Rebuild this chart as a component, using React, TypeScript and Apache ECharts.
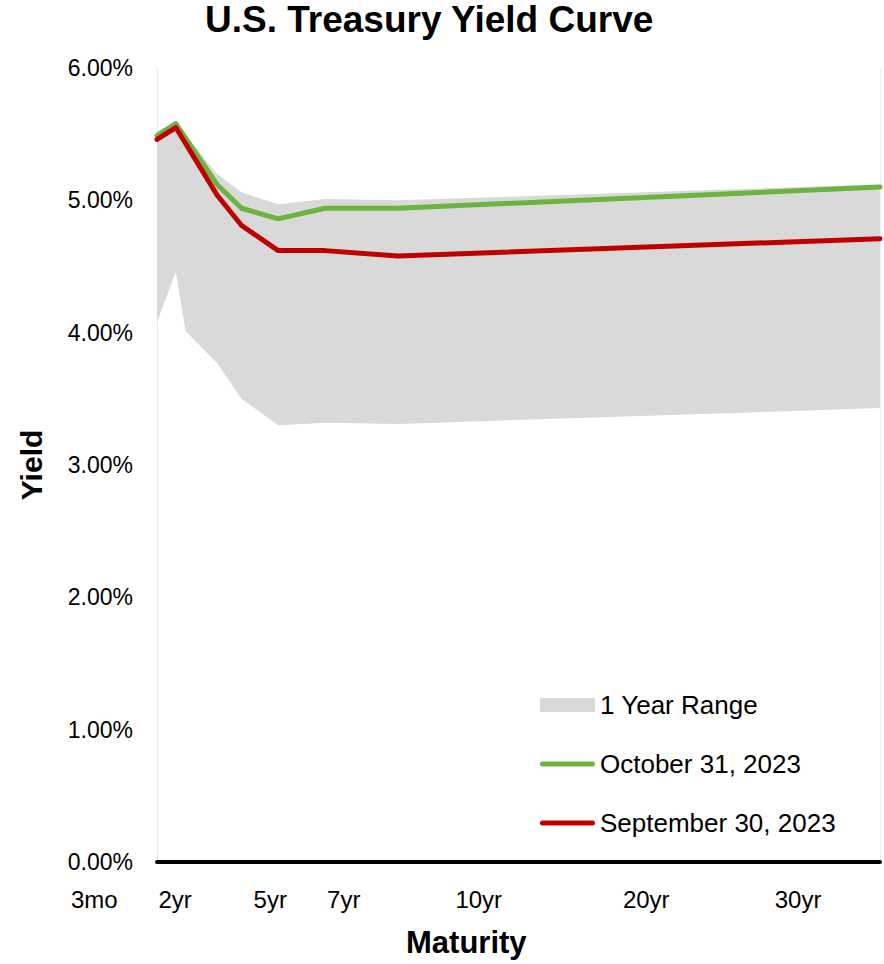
import React, { useEffect, useRef } from "react";
import * as echarts from "echarts";

// Maturity positions (years on the plot's linear scale) and yields (%)
const rangeMaturity = [0, 0.78, 1.19, 2.49, 3.51, 5.03, 6.97, 10.0, 30];
const rangeHigh = [5.52, 5.59, 5.49, 5.2, 5.06, 4.97, 5.01, 5.0, 5.12];
const rangeLow = [4.08, 4.46, 4.01, 3.77, 3.5, 3.3, 3.32, 3.31, 3.43];

const curveMaturity = [0, 0.78, 2.49, 3.51, 5.03, 6.97, 10.0, 30];
const oct2023 = [5.49, 5.58, 5.12, 4.94, 4.86, 4.94, 4.94, 5.1];
const sep2023 = [5.46, 5.55, 5.04, 4.81, 4.62, 4.62, 4.58, 4.71];

// x-axis tick labels and where they sit on the maturity scale
const tickLabels = ["3mo", "2yr", "5yr", "7yr", "10yr", "20yr", "30yr"];
const tickPositions = [-2.6, 0.75, 4.7, 7.75, 13.35, 20.3, 26.6];

const FONT = 'Arial, "Liberation Sans", sans-serif';
const GREEN = "#6DB33F";
const RED = "#C00000";
const GRAY = "#D9D9D9";

const W = 884;
const H = 964;
const plotLeft = 157;
const plotRight = 880;
const plotTop = 68;
const plotBottom = 862;
const xMax = 30;
const labelMin = -4;

export default function App() {
  const ref = useRef<HTMLDivElement>(null);

  useEffect(() => {
    if (!ref.current) return;
    const chart = echarts.init(ref.current, undefined, { renderer: "svg" });
    const pxPerYear = (plotRight - plotLeft) / xMax;
    const grid1Left = plotLeft + labelMin * pxPerYear;
    const lineIcon =
      "path://M2.5,0H52.5A2.5,2.5,0,0,1,52.5,5H2.5A2.5,2.5,0,0,1,2.5,0Z";

    chart.setOption({
      animation: false,
      backgroundColor: "#ffffff",
      title: {
        text: "U.S. Treasury Yield Curve",
        left: 205,
        top: 1,
        padding: 0,
        textStyle: {
          fontFamily: FONT,
          fontSize: 37,
          fontWeight: "bold",
          color: "#000",
        },
      },
      legend: {
        orient: "vertical",
        left: 540,
        top: 692,
        padding: 0,
        itemWidth: 55,
        itemHeight: 14,
        itemGap: 33,
        selectedMode: false,
        symbolKeepAspect: true,
        itemStyle: { borderWidth: 0 },
        textStyle: {
          fontFamily: FONT,
          fontSize: 26,
          lineHeight: 26,
          color: "#000",
        },
        data: [
          { name: "1 Year Range", icon: "rect" },
          { name: "October 31, 2023", icon: lineIcon },
          { name: "September 30, 2023", icon: lineIcon },
        ],
      },
      grid: [
        {
          left: plotLeft,
          right: W - plotRight,
          top: plotTop,
          bottom: H - plotBottom,
        },
        {
          left: grid1Left,
          right: W - plotRight,
          top: plotTop,
          bottom: H - plotBottom,
        },
      ],
      xAxis: [
        {
          type: "value",
          gridIndex: 0,
          min: 0,
          max: xMax,
          z: 10,
          axisLine: {
            show: true,
            onZero: false,
            lineStyle: { color: "#000", width: 4 },
          },
          axisTick: { show: false },
          axisLabel: { show: false },
          splitLine: { show: false },
        },
        {
          type: "value",
          gridIndex: 1,
          min: labelMin,
          max: xMax,
          axisLine: { show: false },
          axisTick: { show: false },
          splitLine: { show: false },
          axisLabel: {
            show: true,
            customValues: tickPositions,
            margin: 25,
            fontFamily: FONT,
            fontSize: 24,
            color: "#000",
            formatter: (v: number) => {
              let best = 0;
              tickPositions.forEach((p, i) => {
                if (Math.abs(p - v) < Math.abs(tickPositions[best] - v)) best = i;
              });
              return tickLabels[best];
            },
          },
          name: "Maturity",
          nameLocation: "middle",
          nameGap: 65,
          nameTextStyle: {
            fontFamily: FONT,
            fontSize: 31,
            fontWeight: "bold",
            color: "#000",
            padding: [0, 8, 0, 0],
          },
        },
      ],
      yAxis: [
        {
          type: "value",
          gridIndex: 0,
          min: 0,
          max: 6,
          interval: 1,
          axisLine: {
            show: true,
            onZero: false,
            lineStyle: { color: "#ececec", width: 1 },
          },
          axisTick: { show: false },
          splitLine: { show: false },
          axisLabel: {
            margin: 24,
            fontFamily: FONT,
            fontSize: 23,
            color: "#000",
            formatter: (v: number) => v.toFixed(2) + "%",
          },
          name: "Yield",
          nameLocation: "middle",
          nameRotate: 90,
          nameGap: 111,
          nameTextStyle: {
            fontFamily: FONT,
            fontSize: 30,
            fontWeight: "bold",
            color: "#000",
          },
        },
        {
          type: "value",
          gridIndex: 0,
          position: "right",
          min: 0,
          max: 6,
          axisLine: {
            show: true,
            onZero: false,
            lineStyle: { color: "#ececec", width: 1 },
          },
          axisTick: { show: false },
          axisLabel: { show: false },
          splitLine: { show: false },
        },
        {
          type: "value",
          gridIndex: 1,
          min: 0,
          max: 6,
          show: false,
        },
      ],
      series: [
        {
          name: "1 Year Range",
          type: "custom",
          xAxisIndex: 0,
          yAxisIndex: 0,
          color: GRAY,
          itemStyle: { color: GRAY },
          encode: { x: 0, y: [1, 2] },
          data: rangeMaturity.map((m, i) => [m, rangeLow[i], rangeHigh[i]]),
          renderItem: (params: any, api: any) => {
            if (params.dataIndex !== 0) return null;
            const upper = rangeMaturity.map((m, i) =>
              api.coord([m, rangeHigh[i]])
            );
            const lower = rangeMaturity
              .map((m, i) => api.coord([m, rangeLow[i]]))
              .reverse();
            return {
              type: "polygon",
              shape: { points: upper.concat(lower) },
              style: { fill: GRAY, stroke: "none" },
            };
          },
          z: 2,
        },
        {
          name: "October 31, 2023",
          type: "line",
          xAxisIndex: 0,
          yAxisIndex: 0,
          symbol: "none",
          color: GREEN,
          itemStyle: { color: GREEN },
          lineStyle: { width: 5, color: GREEN, cap: "round", join: "round" },
          data: curveMaturity.map((m, i) => [m, oct2023[i]]),
          z: 3,
        },
        {
          name: "September 30, 2023",
          type: "line",
          xAxisIndex: 0,
          yAxisIndex: 0,
          symbol: "none",
          color: RED,
          itemStyle: { color: RED },
          lineStyle: { width: 5, color: RED, cap: "round", join: "round" },
          data: curveMaturity.map((m, i) => [m, sep2023[i]]),
          z: 4,
        },
      ],
    });

    return () => {
      chart.dispose();
    };
  }, []);

  return (
    <div
      ref={ref}
      style={{
        position: "fixed",
        left: 0,
        top: 0,
        width: W,
        height: H,
        background: "#fff",
      }}
    />
  );
}
